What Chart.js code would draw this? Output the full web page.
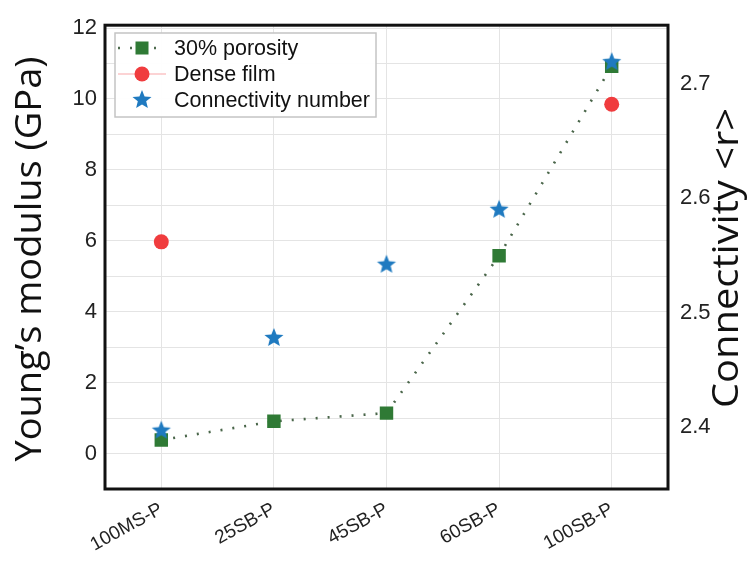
<!DOCTYPE html>
<html><head><meta charset="utf-8">
<script src="https://cdn.jsdelivr.net/npm/chart.js@4.4.0/dist/chart.umd.min.js"></script>
<style>html,body{margin:0;padding:0;background:#fff}#wrap{width:753px;height:569px}</style>
</head><body><div id="wrap"><canvas id="c" width="753" height="569"></canvas></div>
<script>
// ---- data ----
const categories = ['100MS-P', '25SB-P', '45SB-P', '60SB-P', '100SB-P'];
const porosity30 = [0.38, 0.91, 1.14, 5.58, 10.92];
const denseFilm = [5.97, null, null, null, 9.85];
const connectivity = [2.397, 2.478, 2.542, 2.590, 2.719];
const leftTicks = [-1, 0, 1, 2, 3, 4, 5, 6, 7, 8, 9, 10, 11, 12];
const rightTicks = [2.4, 2.5, 2.6, 2.7];
const seriesLabels = ['30% porosity', 'Dense film', 'Connectivity number'];
const axisTitles = ['Young\u2019s modulus (GPa)', 'Connectivity <r>'];

const GREEN = '#2f7a35', RED = '#f03c3e', BLUE = '#1f7ac0';
const tickFont = {family: 'Liberation Sans, Arial, sans-serif', size: 22};

function makeStar(color, R, r) {
  const s = Math.ceil(2 * R + 2);
  const c = document.createElement('canvas');
  c.width = c.height = s;
  const g = c.getContext('2d');
  g.fillStyle = color;
  g.beginPath();
  for (let i = 0; i < 10; i++) {
    const rad = i % 2 ? r : R;
    const a = -Math.PI / 2 + i * Math.PI / 5;
    g.lineTo(s / 2 + rad * Math.cos(a), s / 2 + rad * Math.sin(a));
  }
  g.closePath();
  g.fill();
  return c;
}
const starImg = makeStar(BLUE, 10, 4.4);

function drawVText(ctx, text, cx, cy, font, targetLen) {
  ctx.save();
  ctx.font = font;
  const w = ctx.measureText(text).width;
  let s = targetLen / w;
  s = Math.max(0.8, Math.min(1.2, s));
  ctx.translate(cx, cy);
  ctx.rotate(-Math.PI / 2);
  ctx.scale(s, 1);
  ctx.fillStyle = '#111';
  ctx.textAlign = 'center';
  ctx.textBaseline = 'middle';
  ctx.fillText(text, 0, 0);
  ctx.restore();
}

const decor = {
  id: 'decor',
  afterDatasetsDraw(chart) {
    const ctx = chart.ctx;
    // legend box
    const bx = 115, by = 33, bw = 261, bh = 84;
    ctx.save();
    ctx.fillStyle = 'rgba(255,255,255,0.95)';
    ctx.fillRect(bx, by, bw, bh);
    ctx.strokeStyle = '#c4c4c4';
    ctx.lineWidth = 1.5;
    ctx.strokeRect(bx, by, bw, bh);
    const rows = [48, 74, 100];
    const lx0 = 118, lx1 = 166, mx = 142, tx = 174;
    // row 1: dotted + square
    ctx.strokeStyle = '#4d6a4d';
    ctx.lineWidth = 2.5;
    ctx.setLineDash([2, 10]);
    ctx.lineCap = 'butt';
    ctx.beginPath(); ctx.moveTo(lx0, rows[0]); ctx.lineTo(lx1, rows[0]); ctx.stroke();
    ctx.setLineDash([]);
    ctx.fillStyle = GREEN;
    ctx.fillRect(mx - 6.5, rows[0] - 6.5, 13, 13);
    // row 2: thin red line + circle
    ctx.strokeStyle = 'rgba(240,60,62,0.45)';
    ctx.lineWidth = 1;
    ctx.beginPath(); ctx.moveTo(lx0, rows[1]); ctx.lineTo(lx1, rows[1]); ctx.stroke();
    ctx.fillStyle = RED;
    ctx.beginPath(); ctx.arc(mx, rows[1], 7.5, 0, Math.PI * 2); ctx.fill();
    // row 3: star
    ctx.drawImage(starImg, mx - starImg.width / 2, rows[2] - starImg.height / 2);
    // texts
    ctx.fillStyle = '#111';
    ctx.font = '21.5px Liberation Sans, Arial, sans-serif';
    ctx.textAlign = 'left';
    ctx.textBaseline = 'middle';
    seriesLabels.forEach((t, i) => ctx.fillText(t, tx, rows[i] + 1));
    ctx.restore();
  },
  afterDraw(chart) {
    const ctx = chart.ctx, a = chart.chartArea;
    ctx.save();
    ctx.strokeStyle = '#111';
    ctx.lineWidth = 3;
    ctx.strokeRect(a.left, a.top, a.right - a.left, a.bottom - a.top);
    ctx.restore();
    drawVText(ctx, axisTitles[0], 31, 259, '36px "Open Sans", sans-serif', 405);
    drawVText(ctx, axisTitles[1], 728, 258, '36px "Open Sans", sans-serif', 300);
  }
};

new Chart(document.getElementById('c'), {
  type: 'line',
  data: {
    labels: categories,
    datasets: [
      {
        label: seriesLabels[0], data: porosity30, yAxisID: 'y', order: 2,
        borderColor: '#4a664a', borderWidth: 2.6, borderDash: [2, 10],
        pointStyle: 'rect', pointRadius: 9.5, pointHoverRadius: 9.5,
        pointBackgroundColor: GREEN, pointBorderColor: GREEN, pointBorderWidth: 0,
        tension: 0
      },
      {
        label: seriesLabels[1], data: denseFilm, yAxisID: 'y', order: 1,
        borderColor: 'rgba(240,60,62,0.45)', borderWidth: 1, spanGaps: false,
        pointStyle: 'circle', pointRadius: 7.5, pointHoverRadius: 7.5,
        pointBackgroundColor: RED, pointBorderColor: RED, pointBorderWidth: 0
      },
      {
        label: seriesLabels[2], data: connectivity, yAxisID: 'y1', order: 0,
        showLine: false, pointStyle: starImg, pointRadius: 10
      }
    ]
  },
  options: {
    responsive: false, animation: false, devicePixelRatio: 1,
    layout: {padding: {top: 23, left: 0, right: 0, bottom: 0}},
    plugins: {legend: {display: false}, tooltip: {enabled: false}},
    scales: {
      x: {
        type: 'category', offset: true,
        grid: {color: '#e4e4e4', lineWidth: 1, drawTicks: false, offset: false},
        border: {display: false},
        ticks: {font: {family: tickFont.family, size: 19}, color: '#222', maxRotation: 29, minRotation: 29, padding: 9, autoSkip: false},
        afterFit(s) { s.height = 80; }
      },
      y: {
        position: 'left', min: -1, max: 12.08,
        afterBuildTicks(s) { s.ticks = leftTicks.map(v => ({value: v})); },
        grid: {color: '#e4e4e4', lineWidth: 1, drawTicks: false},
        border: {display: false},
        ticks: {font: tickFont, color: '#222', padding: 8,
          callback: v => (v >= 0 && v % 2 === 0) ? String(v) : ''},
        afterFit(s) { s.width = 105; }
      },
      y1: {
        position: 'right', min: 2.346, max: 2.7513,
        afterBuildTicks(s) { s.ticks = rightTicks.map(v => ({value: v})); },
        grid: {drawOnChartArea: false, drawTicks: false},
        border: {display: false},
        ticks: {font: tickFont, color: '#222', padding: 12, callback: v => Number(v).toFixed(1)},
        afterFit(s) { s.width = 85; }
      }
    }
  },
  plugins: [decor]
});
</script></body></html>
